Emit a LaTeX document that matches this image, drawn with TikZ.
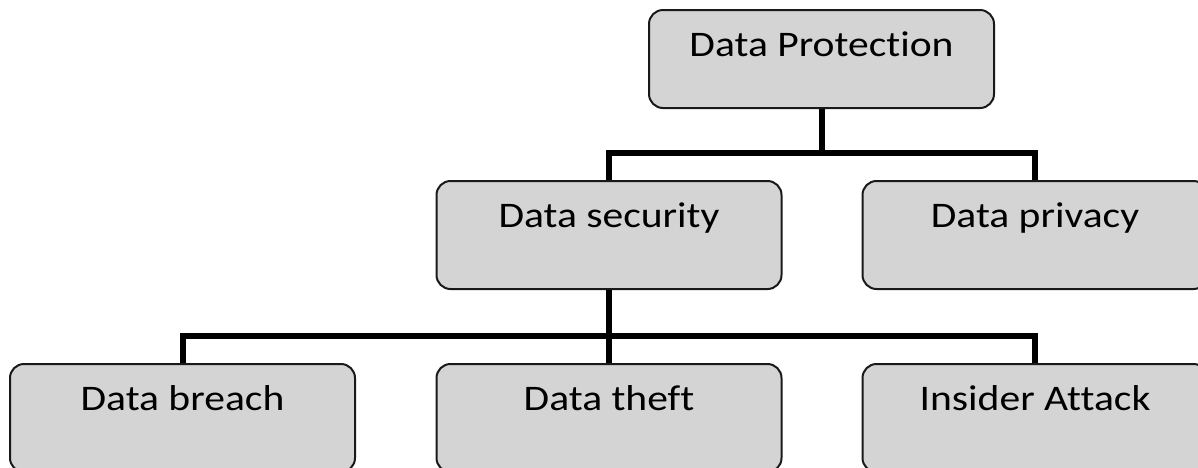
\documentclass[tikz,border=0pt]{standalone}
\usepackage{graphicx}
\usepackage{fontspec}
\setmainfont[Ligatures=CommonOff]{Carlito}
\newcommand\widetext[1]{\scalebox{1.155}[1]{#1}}
\begin{document}
\begin{tikzpicture}[x=1pt,y=-1pt,
  box/.style={draw=black!90, line width=2pt, fill=boxgray, rounded corners=14pt,
    anchor=north, minimum width=345pt, inner xsep=0pt, inner ysep=20pt,
    text height=26pt, font=\fontsize{36}{43}\selectfont},
  boxtop/.style={box, text depth=32pt},
  boxlow/.style={box, text depth=42pt},
  conn/.style={line width=6pt, black, line join=miter}]
\definecolor{boxgray}{HTML}{D4D4D4}
\useasboundingbox (0,0) rectangle (1198,467);
\clip (0,0) rectangle (1198,467);
\node[boxtop] (prot) at (821.5,9) {\widetext{Data Protection}};
\node[boxlow] (sec) at (609,180) {\widetext{Data security}};
\node[boxlow] (priv) at (1035,180) {\widetext{Data privacy}};
\node[boxlow] (breach) at (182.5,363) {\widetext{Data breach}};
\node[boxlow] (theft) at (609,363) {\widetext{Data theft}};
\node[boxlow] (ins) at (1035,363) {\widetext{Insider Attack}};
\coordinate (j1) at (821.5,153);
\coordinate (j2) at (609,336);
\draw[conn] (prot.south) -- (j1);
\draw[conn] (sec.north) |- (j1) -| (priv.north);
\draw[conn] (sec.south) -- (theft.north);
\draw[conn] (breach.north) |- (j2) -| (ins.north);
\end{tikzpicture}
\end{document}
